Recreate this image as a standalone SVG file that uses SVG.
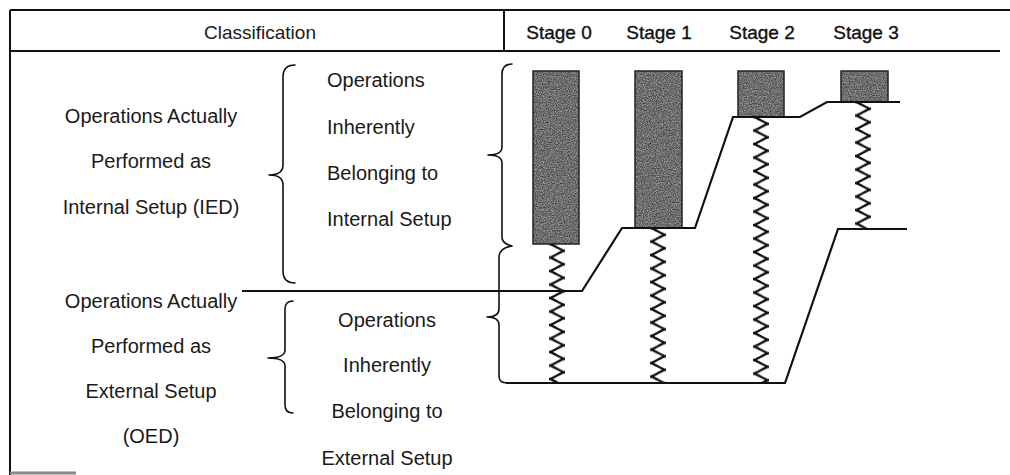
<svg xmlns="http://www.w3.org/2000/svg" width="1010" height="475" viewBox="0 0 1010 475">
  <style>
    .t { font-family: "Liberation Sans", Arial, sans-serif; font-size: 20px; fill: #1a1a1a; }
    .c { text-anchor: middle; }
    .stage { font-family: "Liberation Sans", Arial, sans-serif; font-size: 19px; fill: #111; stroke: #111; stroke-width: 0.35; text-anchor: middle; }
    .rule { stroke: #111; stroke-width: 2; fill: none; }
    .brace { stroke: #111; stroke-width: 1.6; fill: none; stroke-linejoin: round; stroke-linecap: round; }
    .flow { stroke: #111; stroke-width: 2.2; fill: none; stroke-linejoin: miter; }
    .bar { stroke: #222; stroke-width: 1.5; fill: none; }
  </style>
  <defs>
    <!-- grainy grey fill for the operation blocks -->
    <filter id="grain" x="0" y="0" width="1" height="1" color-interpolation-filters="sRGB">
      <feTurbulence type="fractalNoise" baseFrequency="0.85" numOctaves="2" seed="7" result="n"/>
      <feColorMatrix in="n" type="matrix" values="0.7 0 0 0 0.08  0.7 0 0 0 0.08  0.7 0 0 0 0.08  0 0 0 0 1" result="g"/>
      <feComposite in="g" in2="SourceGraphic" operator="in"/>
    </filter>
    <!-- one turn of a spring, tiled vertically -->
    <pattern id="coil" patternUnits="userSpaceOnUse" x="-11" y="0" width="22" height="13.5">
      <path d="M19,-6.75 C15,-6.75 7,0 3,0 C7,0 15,6.75 19,6.75 C15,6.75 7,13.5 3,13.5 C7,13.5 15,20.25 19,20.25" fill="none" stroke="#111" stroke-width="2.3"/>
    </pattern>
  </defs>

  <!-- table frame -->
  <g id="frame">
    <line class="rule" x1="10" y1="10" x2="1010" y2="10"/>
    <line class="rule" x1="10" y1="51" x2="1000" y2="51"/>
    <line class="rule" x1="10" y1="10" x2="10" y2="475"/>
    <line class="rule" x1="504" y1="10" x2="504" y2="52"/>
    <line x1="10" y1="473" x2="76" y2="473" stroke="#888" stroke-width="3"/>
  </g>

  <!-- header -->
  <g id="header">
    <text class="t c" x="260" y="39" style="font-size:19px">Classification</text>
    <text class="stage" x="559" y="39">Stage 0</text>
    <text class="stage" x="659" y="39">Stage 1</text>
    <text class="stage" x="762" y="39">Stage 2</text>
    <text class="stage" x="866" y="39">Stage 3</text>
  </g>

  <!-- classification labels -->
  <g id="ied-label">
    <text class="t c" x="151" y="123">Operations Actually</text>
    <text class="t c" x="151" y="168">Performed as</text>
    <text class="t c" x="151" y="214">Internal Setup (IED)</text>
  </g>
  <g id="oed-label">
    <text class="t c" x="151" y="308">Operations Actually</text>
    <text class="t c" x="151" y="353">Performed as</text>
    <text class="t c" x="151" y="398">External Setup</text>
    <text class="t c" x="151" y="443">(OED)</text>
  </g>
  <g id="internal-label">
    <text class="t" x="327" y="87">Operations</text>
    <text class="t" x="327" y="134">Inherently</text>
    <text class="t" x="327" y="180">Belonging to</text>
    <text class="t" x="327" y="226">Internal Setup</text>
  </g>
  <g id="external-label">
    <text class="t c" x="387" y="327">Operations</text>
    <text class="t c" x="387" y="372">Inherently</text>
    <text class="t c" x="387" y="418">Belonging to</text>
    <text class="t c" x="387" y="465">External Setup</text>
  </g>

  <!-- braces -->
  <g id="braces">
    <path class="brace" d="M295,65 Q283,65 283,77 L283,165 Q283,175 269,175 Q283,175 283,185 L283,271 Q283,283 295,283"/>
    <path class="brace" d="M293,301 Q285,301 285,309 L285,350 Q285,358 268,358 Q285,358 285,366 L285,405 Q285,413 293,413"/>
    <path class="brace" d="M512,64 Q502,64 502,74 L502,147 Q502,155 488,155 Q502,155 502,163 L502,238 Q503,244 512,246 Q500,248 499,256 L499,309 Q499,317 487,317 Q499,317 499,325 L499,376 Q499,383 507,383"/>
  </g>

  <!-- operation blocks -->
  <g id="blocks">
    <rect x="533" y="71" width="46" height="173" fill="#777" filter="url(#grain)"/>
    <rect class="bar" x="533" y="71" width="46" height="173"/>
    <rect x="635" y="71" width="47" height="157" fill="#777" filter="url(#grain)"/>
    <rect class="bar" x="635" y="71" width="47" height="157"/>
    <rect x="738" y="71" width="46" height="46" fill="#777" filter="url(#grain)"/>
    <rect class="bar" x="738" y="71" width="46" height="46"/>
    <rect x="841" y="71" width="47" height="31" fill="#777" filter="url(#grain)"/>
    <rect class="bar" x="841" y="71" width="47" height="31"/>
  </g>

  <!-- springs -->
  <g id="springs">
    <g transform="translate(557,244)"><rect x="-11" y="0" width="22" height="139" fill="url(#coil)"/></g>
    <g transform="translate(658,228)"><rect x="-11" y="0" width="22" height="155" fill="url(#coil)"/></g>
    <g transform="translate(761,117)"><rect x="-11" y="0" width="22" height="266" fill="url(#coil)"/></g>
    <g transform="translate(863,102)"><rect x="-11" y="0" width="22" height="127" fill="url(#coil)"/></g>
  </g>

  <!-- boundary lines -->
  <g id="connectors">
    <polyline class="flow" points="242,291 582,291 622,228 695,228 733,117 800,117 827,102 900,102"/>
    <polyline class="flow" points="907,229 838,229 785,383 506,383"/>
  </g>
</svg>
